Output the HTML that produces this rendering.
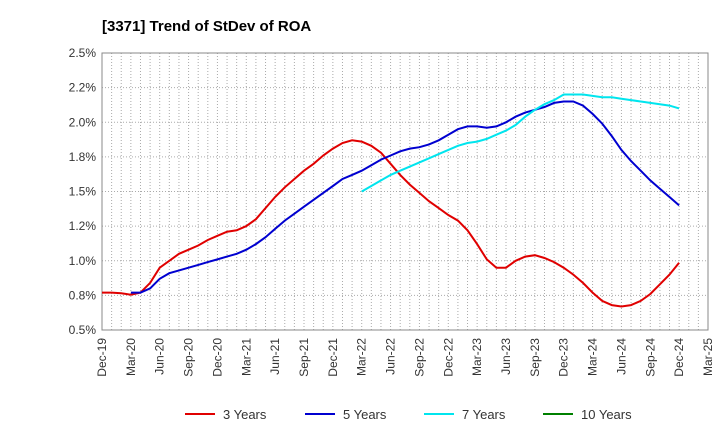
<!DOCTYPE html>
<html><head><meta charset="utf-8"><style>
body{margin:0;background:#fff;font-family:"Liberation Sans",sans-serif}
svg text{font-family:"Liberation Sans",sans-serif}
</style></head><body>
<svg id="c" width="720" height="440">
<text x="102" y="31" font-size="15" font-weight="bold" fill="#000">[3371]  Trend of StDev of ROA</text>
<g id="grid"></g><g id="axes"></g><g id="series"></g><g id="legend"></g>
</svg>
<script>
const xLabels=["Dec-19","Mar-20","Jun-20","Sep-20","Dec-20","Mar-21","Jun-21","Sep-21","Dec-21","Mar-22","Jun-22","Sep-22","Dec-22","Mar-23","Jun-23","Sep-23","Dec-23","Mar-24","Jun-24","Sep-24","Dec-24","Mar-25"];
const yTicks=[0.5,0.75,1.0,1.25,1.5,1.75,2.0,2.25,2.5];
const yTickLabels=["0.5%","0.8%","1.0%","1.2%","1.5%","1.8%","2.0%","2.2%","2.5%"];
const y3=[0.77,0.77,0.765,0.755,0.77,0.84,0.95,1.00,1.05,1.08,1.11,1.15,1.18,1.21,1.22,1.25,1.30,1.38,1.46,1.53,1.59,1.65,1.70,1.76,1.81,1.85,1.87,1.86,1.83,1.78,1.70,1.62,1.55,1.49,1.43,1.38,1.33,1.29,1.22,1.12,1.01,0.95,0.95,1.00,1.03,1.04,1.02,0.99,0.95,0.90,0.84,0.77,0.71,0.68,0.67,0.68,0.71,0.76,0.83,0.90,0.985];
const y5=[null,null,null,0.77,0.77,0.80,0.87,0.91,0.93,0.95,0.97,0.99,1.01,1.03,1.05,1.08,1.12,1.17,1.23,1.29,1.34,1.39,1.44,1.49,1.54,1.59,1.62,1.65,1.69,1.73,1.76,1.79,1.81,1.82,1.84,1.87,1.91,1.95,1.97,1.97,1.96,1.97,2.00,2.04,2.07,2.09,2.11,2.14,2.15,2.15,2.12,2.06,1.99,1.90,1.80,1.72,1.65,1.58,1.52,1.46,1.40];
const y7StartMonth=27;
const y7=[1.50,1.54,1.58,1.62,1.65,1.68,1.71,1.74,1.77,1.80,1.83,1.85,1.86,1.88,1.91,1.94,1.98,2.04,2.09,2.13,2.16,2.20,2.20,2.20,2.19,2.18,2.18,2.17,2.16,2.15,2.14,2.13,2.12,2.10];
const x0=102,x1=708,yt=53,yb=330,nM=63;
const X=i=>x0+(x1-x0)*i/nM, Y=v=>yb-(v-0.5)/2*(yb-yt);
const ns="http://www.w3.org/2000/svg";
function mk(p,t,a){const e=document.createElementNS(ns,t);for(const k in a)e.setAttribute(k,a[k]);p.appendChild(e);return e;}
const g=document.getElementById('grid'),ax=document.getElementById('axes'),s=document.getElementById('series'),lg=document.getElementById('legend');
for(let i=1;i<nM;i++){const l=mk(g,'line',{x1:X(i),x2:X(i),y1:yt,y2:yb,stroke:'#aaa','stroke-dasharray':'1,2','stroke-width':1});

}
yTicks.forEach((v,i)=>{const l=mk(g,'line',{x1:x0,x2:x1,y1:Y(v),y2:Y(v),stroke:'#aaa','stroke-dasharray':'1,2'});


const t=mk(ax,'text',{x:x0-6,y:Y(v)+4,'text-anchor':'end','font-size':12,fill:'#333'});t.textContent=yTickLabels[i];

});
const b=mk(ax,'rect',{x:x0,y:yt,width:x1-x0,height:yb-yt,fill:'none',stroke:'#888'});


xLabels.forEach((lab,i)=>{const x=X(i*3);const t=mk(ax,'text',{x:x+4,y:yb+8,'text-anchor':'end','font-size':12,fill:'#333',transform:`rotate(-90 ${x+4} ${yb+8})`});t.textContent=lab;

});
function line(arr,off,col,name){let d='';arr.forEach((v,i)=>{if(v==null)return;d+=(d?'L':'M')+X(i+off).toFixed(1)+','+Y(v).toFixed(1);});const p=mk(s,'path',{d:d,fill:'none',stroke:col,'stroke-width':2});

}
line(y3,0,'#e00000','line-3-years');line(y5,0,'#0000d0','line-5-years');line(y7,y7StartMonth,'#00e5ee','line-7-years');
[["3 Years","#e00000",185],["5 Years","#0000d0",305],["7 Years","#00e5ee",424],["10 Years","#008000",543]].forEach(([n,c,x])=>{const l=mk(lg,'line',{x1:x,x2:x+30,y1:414,y2:414,stroke:c,'stroke-width':2});


const t=mk(lg,'text',{x:x+38,y:419,'font-size':13,fill:'#333'});t.textContent=n;

});
</script>
</body></html>
